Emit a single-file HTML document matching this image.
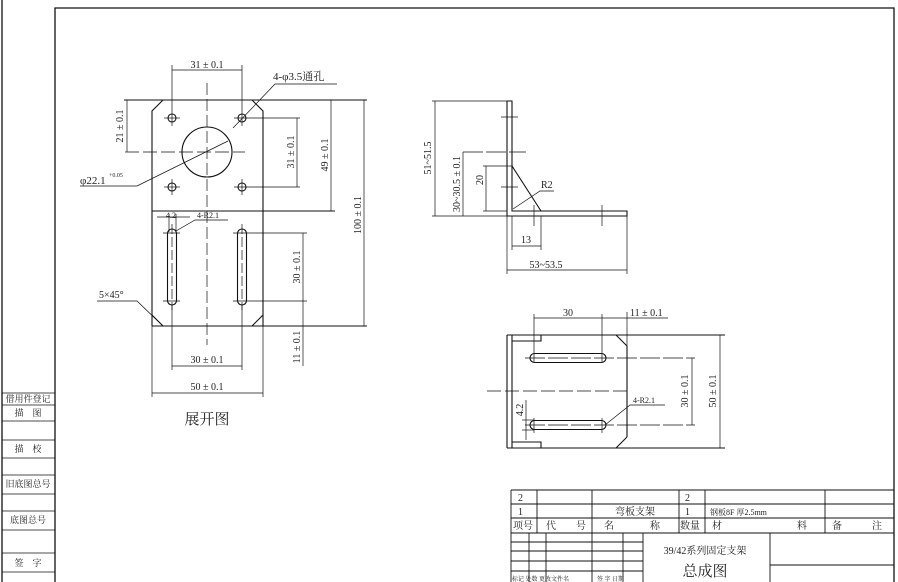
<!DOCTYPE html>
<html><head><meta charset="utf-8"><style>
html,body{margin:0;padding:0;background:#fff}
svg{display:block}
text{font-family:"Liberation Serif","Noto Serif CJK SC","Noto Sans CJK SC",serif;fill:#222;stroke:none}
.c{font-family:"Liberation Sans","Noto Sans CJK SC",sans-serif}
</style></head><body>
<svg width="898" height="582" viewBox="0 0 898 582" xmlns="http://www.w3.org/2000/svg">
<g stroke="#111" fill="none" stroke-width="1">
<line x1="2" y1="0" x2="2" y2="582" stroke-width="1.3"/>
<polyline points="55,582 55,8 894,8 894,582" stroke-width="1.3"/>
<g stroke-width="0.8">
<line x1="2" y1="393" x2="55" y2="393"/><line x1="2" y1="405" x2="55" y2="405"/>
<line x1="2" y1="421" x2="55" y2="421"/><line x1="2" y1="440" x2="55" y2="440"/>
<line x1="2" y1="458" x2="55" y2="458"/><line x1="2" y1="475" x2="55" y2="475"/>
<line x1="2" y1="494" x2="55" y2="494"/><line x1="2" y1="511" x2="55" y2="511"/>
<line x1="2" y1="530" x2="55" y2="530"/><line x1="2" y1="553" x2="55" y2="553"/>
<line x1="2" y1="572" x2="55" y2="572"/>
</g>
<g stroke-width="1.1">
<polyline points="152,326 152,111 163,100 252,100 263,111 263,326"/>
<line x1="124" y1="100" x2="367" y2="100"/>
<line x1="152" y1="315" x2="163" y2="326"/>
<line x1="263" y1="315" x2="252" y2="326"/>
<line x1="152" y1="326" x2="367" y2="326"/>
<line x1="152" y1="211" x2="335" y2="211"/>
<circle cx="207" cy="152" r="25"/>
<circle cx="172" cy="118" r="4"/><circle cx="242" cy="118" r="4"/>
<circle cx="172" cy="187" r="4"/><circle cx="242" cy="187" r="4"/>
<rect x="167.5" y="229" width="9" height="76" rx="4.5"/>
<rect x="237.5" y="229" width="9" height="76" rx="4.5"/>
</g>
<g stroke-width="0.7">
<line x1="207" y1="83" x2="207" y2="345" stroke-dasharray="12,4"/>
<line x1="125" y1="152" x2="245" y2="152" stroke-dasharray="14,4"/>
<line x1="164" y1="118" x2="180" y2="118"/><line x1="234" y1="118" x2="300" y2="118"/>
<line x1="164" y1="187" x2="180" y2="187"/><line x1="234" y1="187" x2="300" y2="187"/>
<line x1="172" y1="179" x2="172" y2="195"/>
<line x1="242" y1="179" x2="242" y2="195"/>
<line x1="172" y1="65" x2="172" y2="126"/><line x1="242" y1="65" x2="242" y2="126"/>
<line x1="172" y1="70" x2="242" y2="70"/>
<line x1="127" y1="100" x2="127" y2="152"/>
<line x1="297" y1="118" x2="297" y2="187"/>
<line x1="331" y1="100" x2="331" y2="211"/>
<line x1="364" y1="100" x2="364" y2="326"/>
<line x1="172" y1="224" x2="172" y2="310" stroke-dasharray="10,3"/>
<line x1="242" y1="224" x2="242" y2="310" stroke-dasharray="10,3"/>
<line x1="163" y1="233" x2="180" y2="233"/><line x1="163" y1="301" x2="180" y2="301"/>
<line x1="233" y1="233" x2="307" y2="233"/><line x1="233" y1="301" x2="307" y2="301"/>
<line x1="303" y1="233" x2="303" y2="366"/>
<line x1="172" y1="305" x2="172" y2="370"/><line x1="242" y1="305" x2="242" y2="370"/>
<line x1="172" y1="366" x2="242" y2="366"/>
<line x1="152" y1="326" x2="152" y2="397"/><line x1="263" y1="326" x2="263" y2="397"/>
<line x1="152" y1="393" x2="263" y2="393"/>
<line x1="157" y1="217" x2="190" y2="217"/>
<line x1="169" y1="214" x2="169" y2="232"/><line x1="176" y1="214" x2="176" y2="232"/>
<polyline points="176,231 195,220 228,220"/>
<polyline points="233,128 275,84 337,84"/>
<polyline points="228,141 137,186 80,186"/>
<polyline points="97,301 137,301 163,326"/>
</g>
<g stroke-width="1.1">
<polyline points="507,101 512,101 512,211 627,211 627,216 507,216 507,101"/>
<line x1="512" y1="166" x2="541" y2="211"/>
</g>
<g stroke-width="0.7">
<line x1="432" y1="101" x2="507" y2="101"/><line x1="432" y1="216" x2="507" y2="216"/>
<line x1="435" y1="101" x2="435" y2="216"/>
<line x1="463" y1="152" x2="526" y2="152" stroke-dasharray="20,3"/>
<line x1="463" y1="152" x2="463" y2="216"/>
<line x1="483" y1="166" x2="512" y2="166"/><line x1="483" y1="211" x2="507" y2="211"/>
<line x1="486" y1="166" x2="486" y2="211"/>
<line x1="501" y1="117" x2="518" y2="117"/><line x1="501" y1="187" x2="518" y2="187"/>
<line x1="534" y1="205" x2="534" y2="226"/><line x1="602" y1="205" x2="602" y2="226"/>
<line x1="512" y1="216" x2="512" y2="250"/><line x1="541" y1="216" x2="541" y2="250"/>
<line x1="512" y1="246" x2="541" y2="246"/>
<line x1="507" y1="216" x2="507" y2="274"/><line x1="627" y1="216" x2="627" y2="274"/>
<line x1="507" y1="270" x2="627" y2="270"/>
<polyline points="513,209 540,191 554,191"/>
</g>
<g stroke-width="1.1">
<line x1="507" y1="335" x2="725" y2="335"/><line x1="507" y1="448" x2="725" y2="448"/>
<line x1="507" y1="335" x2="507" y2="448"/><line x1="512" y1="335" x2="512" y2="448"/>
<line x1="627" y1="346" x2="627" y2="437"/>
<line x1="616" y1="335" x2="627" y2="346"/><line x1="616" y1="448" x2="627" y2="437"/>
<polyline points="512,341 541,341 541,335"/>
<polyline points="512,442 541,442 541,448"/>
<rect x="530" y="353.5" width="76" height="9" rx="4.5"/>
<rect x="530" y="420.5" width="76" height="9" rx="4.5"/>
</g>
<g stroke-width="0.7">
<line x1="487" y1="391" x2="627" y2="391" stroke-dasharray="14,4"/>
<line x1="525" y1="358" x2="695" y2="358" stroke-dasharray="20,3"/>
<line x1="525" y1="425" x2="695" y2="425" stroke-dasharray="20,3"/>
<line x1="534" y1="314" x2="534" y2="362"/><line x1="602" y1="314" x2="602" y2="362"/>
<line x1="534" y1="418" x2="534" y2="433"/><line x1="602" y1="418" x2="602" y2="433"/>
<line x1="627" y1="312" x2="627" y2="346"/>
<line x1="534" y1="318" x2="668" y2="318"/>
<line x1="692" y1="358" x2="692" y2="425"/>
<line x1="720" y1="335" x2="720" y2="448"/>
<line x1="522" y1="420" x2="534" y2="420"/><line x1="522" y1="430" x2="534" y2="430"/>
<line x1="526" y1="400" x2="526" y2="440"/>
<polyline points="605,425 630,405 665,405"/>
</g>
<g stroke-width="0.9">
<line x1="511" y1="490" x2="894" y2="490"/>
<line x1="511" y1="504" x2="894" y2="504"/>
<line x1="511" y1="518" x2="894" y2="518"/>
<line x1="511" y1="533" x2="894" y2="533"/>
<line x1="511" y1="490" x2="511" y2="582"/>
<line x1="537" y1="490" x2="537" y2="533"/>
<line x1="592" y1="490" x2="592" y2="582"/>
<line x1="679" y1="490" x2="679" y2="533"/>
<line x1="705" y1="490" x2="705" y2="533"/>
<line x1="825" y1="490" x2="825" y2="533"/>
<line x1="529" y1="533" x2="529" y2="582"/>
<line x1="546" y1="533" x2="546" y2="582"/>
<line x1="623" y1="533" x2="623" y2="582"/>
<line x1="643" y1="533" x2="643" y2="582"/>
<line x1="770" y1="533" x2="770" y2="582"/>
<line x1="511" y1="542" x2="643" y2="542"/>
<line x1="511" y1="551" x2="643" y2="551"/>
<line x1="511" y1="561" x2="643" y2="561"/>
<line x1="511" y1="571" x2="643" y2="571"/>
<line x1="770" y1="565" x2="894" y2="565"/>
</g>
</g>
<g font-size="10">
<text x="207" y="68" text-anchor="middle">31 ± 0.1</text>
<text x="273" y="80" font-size="11">4-φ3.5通孔</text>
<text x="80" y="184" font-size="11">φ22.1</text>
<text x="109" y="177" font-size="6">+0.05</text>
<text x="99" y="298">5×45°</text>
<text x="166" y="218" font-size="8">4.2</text>
<text x="197" y="218" font-size="8">4-R2.1</text>
<text x="207" y="363" text-anchor="middle">30 ± 0.1</text>
<text x="207" y="390" text-anchor="middle">50 ± 0.1</text>
<text x="207" y="424" text-anchor="middle" font-size="15">展开图</text>
<text transform="translate(123,126) rotate(-90)" text-anchor="middle">21 ± 0.1</text>
<text transform="translate(294,152) rotate(-90)" text-anchor="middle">31 ± 0.1</text>
<text transform="translate(328,155) rotate(-90)" text-anchor="middle">49 ± 0.1</text>
<text transform="translate(361,215) rotate(-90)" text-anchor="middle">100 ± 0.1</text>
<text transform="translate(300,267) rotate(-90)" text-anchor="middle">30 ± 0.1</text>
<text transform="translate(300,347) rotate(-90)" text-anchor="middle">11 ± 0.1</text>
<text x="541" y="188">R2</text>
<text x="526" y="243" text-anchor="middle">13</text>
<text x="546" y="268" text-anchor="middle">53~53.5</text>
<text transform="translate(431,158) rotate(-90)" text-anchor="middle">51~51.5</text>
<text transform="translate(460,184) rotate(-90)" text-anchor="middle">30~30.5 ± 0.1</text>
<text transform="translate(483,180) rotate(-90)" text-anchor="middle">20</text>
<text x="568" y="316" text-anchor="middle">30</text>
<text x="630" y="316">11 ± 0.1</text>
<text x="633" y="403" font-size="8">4-R2.1</text>
<text transform="translate(688,391) rotate(-90)" text-anchor="middle">30 ± 0.1</text>
<text transform="translate(716,391) rotate(-90)" text-anchor="middle">50 ± 0.1</text>
<text transform="translate(523,410) rotate(-90)" text-anchor="middle">4.2</text>
</g>
<g class="c" font-size="10">
<text x="518" y="501">2</text><text x="518" y="515">1</text>
<text x="685" y="501">2</text><text x="685" y="515">1</text>
<text x="635" y="515" text-anchor="middle">弯板支架</text>
<text x="710" y="515" font-size="8">钢板8F 厚2.5mm</text>
<text x="513" y="529">项号</text>
<text x="546" y="529">代</text><text x="576" y="529">号</text>
<text x="604" y="529">名</text><text x="650" y="529">称</text>
<text x="680" y="529">数量</text>
<text x="712" y="529">材</text><text x="797" y="529">料</text>
<text x="832" y="529">备</text><text x="872" y="529">注</text>
<text x="705" y="554" text-anchor="middle">39/42系列固定支架</text>
<text x="705" y="576" text-anchor="middle" font-size="15">总成图</text>
<text x="512" y="581" font-size="6">标记 处数 更改文件名</text>
<text x="597" y="581" font-size="6">签 字 日期</text>
<text x="28" y="402" text-anchor="middle" font-size="9">借用件登记</text>
<text x="28" y="416" text-anchor="middle" font-size="9">描　图</text>
<text x="28" y="452" text-anchor="middle" font-size="9">描　校</text>
<text x="28" y="487" text-anchor="middle" font-size="9">旧底图总号</text>
<text x="28" y="523" text-anchor="middle" font-size="9">底图总号</text>
<text x="28" y="566" text-anchor="middle" font-size="9">签　字</text>
</g>
</svg>
</body></html>
